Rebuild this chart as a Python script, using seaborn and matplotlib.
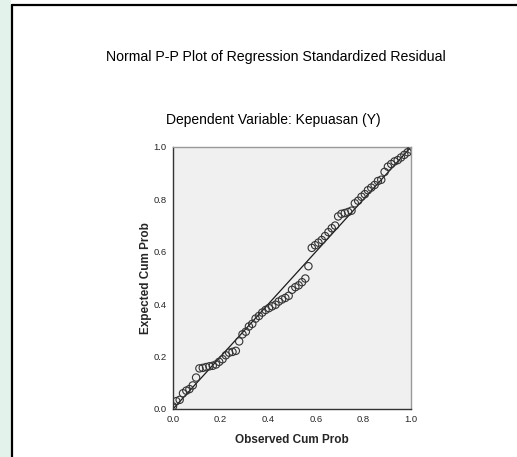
import matplotlib
matplotlib.use("Agg")
import matplotlib.pyplot as plt
import seaborn as sns
import pandas as pd
from matplotlib.patches import Rectangle
from matplotlib.lines import Line2D

observed = [0.000, 0.014, 0.028, 0.042, 0.056, 0.069, 0.083, 0.097, 0.111, 0.125,
            0.139, 0.153, 0.167, 0.181, 0.194, 0.208, 0.222, 0.236, 0.250, 0.264,
            0.278, 0.292, 0.306, 0.319, 0.333, 0.347, 0.361, 0.375, 0.389, 0.403,
            0.417, 0.431, 0.444, 0.458, 0.472, 0.486, 0.500, 0.514, 0.528, 0.542,
            0.556, 0.569, 0.583, 0.597, 0.611, 0.625, 0.639, 0.653, 0.667, 0.681,
            0.694, 0.708, 0.722, 0.736, 0.750, 0.764, 0.778, 0.792, 0.806, 0.819,
            0.833, 0.847, 0.861, 0.875, 0.889, 0.903, 0.917, 0.931, 0.944, 0.958,
            0.972, 0.986, 1.000]
expected = [0.010, 0.030, 0.035, 0.060, 0.070, 0.076, 0.090, 0.120, 0.155, 0.157,
            0.160, 0.163, 0.165, 0.170, 0.180, 0.190, 0.205, 0.215, 0.218, 0.222,
            0.258, 0.285, 0.295, 0.315, 0.325, 0.345, 0.355, 0.368, 0.378, 0.385,
            0.392, 0.398, 0.410, 0.418, 0.424, 0.432, 0.455, 0.465, 0.472, 0.484,
            0.498, 0.545, 0.615, 0.625, 0.635, 0.645, 0.660, 0.675, 0.690, 0.700,
            0.735, 0.745, 0.748, 0.752, 0.757, 0.785, 0.795, 0.810, 0.820, 0.835,
            0.845, 0.855, 0.870, 0.875, 0.905, 0.925, 0.935, 0.945, 0.950, 0.960,
            0.970, 0.980, 0.990]
ref_x = [0.0, 1.0]
ref_y = [0.0, 1.0]
ticks = [0.0, 0.2, 0.4, 0.6, 0.8, 1.0]
tick_labels = ["0.0", "0.2", "0.4", "0.6", "0.8", "1.0"]

sns.set_style("white")
plt.rcParams['font.family'] = ['Liberation Sans', 'DejaVu Sans']

fig = plt.figure(figsize=(5.17, 4.57), dpi=100)
fig.patch.set_facecolor("white")
# left strip + frame
fig.patches.append(Rectangle((0, 0), 11 / 517, 1, transform=fig.transFigure,
                             facecolor="#e4f2ec", edgecolor="none", zorder=0))
fig.lines.append(Line2D([11.5 / 517, 11.5 / 517], [0, 1 - 5 / 457], transform=fig.transFigure,
                        color="black", lw=1.6))
fig.lines.append(Line2D([11.5 / 517, 1], [1 - 5 / 457, 1 - 5 / 457], transform=fig.transFigure,
                        color="black", lw=1.6))

ax = fig.add_axes([173 / 517, 48 / 457, 238 / 517, 262 / 457])
ax.set_facecolor("#f0f0f0")

df = pd.DataFrame({"Observed Cum Prob": observed, "Expected Cum Prob": expected})
sns.lineplot(x=ref_x, y=ref_y, ax=ax, color="#1a1a1a", lw=0.9, zorder=2)
sns.scatterplot(data=df, x="Observed Cum Prob", y="Expected Cum Prob", ax=ax,
                marker="o", s=28, facecolor="none", edgecolor="#333333",
                linewidth=0.8, zorder=3)

ax.set_xlim(0, 1)
ax.set_ylim(0, 1)
ax.set_xticks(ticks)
ax.set_yticks(ticks)
ax.set_xticklabels(tick_labels, fontsize=6.8)
ax.set_yticklabels(tick_labels, fontsize=6.8)
ax.tick_params(direction="out", length=3, width=0.8, color="#333333", pad=1.5)
for s in ["left", "bottom"]:
    ax.spines[s].set_color("#333333")
    ax.spines[s].set_linewidth(1.0)
for s in ["top", "right"]:
    ax.spines[s].set_color("#999999")
    ax.spines[s].set_linewidth(1.0)

ax.set_xlabel("Observed Cum Prob", fontsize=8.5, fontweight="bold", labelpad=7)
ax.set_ylabel("Expected Cum Prob", fontsize=8.5, fontweight="bold", labelpad=1)

fig.text(276 / 517, 1 - 57 / 457, "Normal P-P Plot of Regression Standardized Residual",
         ha="center", va="center", fontsize=10.2, color="black")
fig.text(273 / 517, 1 - 120 / 457, "Dependent Variable: Kepuasan (Y)",
         ha="center", va="center", fontsize=10, color="black")

fig.savefig("out.png", dpi=100)
